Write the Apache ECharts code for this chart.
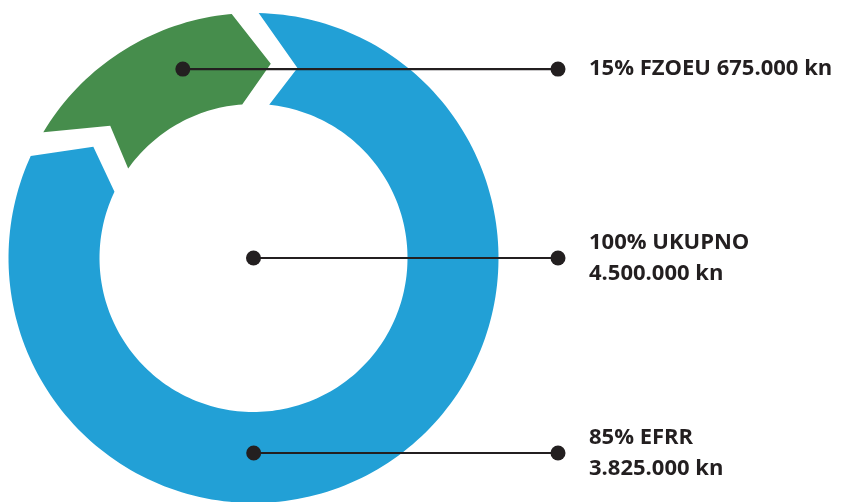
<!DOCTYPE html>
<html>
<head>
<meta charset="utf-8">
<script src="https://cdn.jsdelivr.net/npm/echarts@6/dist/echarts.min.js"></script>
<style>
  html, body { margin: 0; padding: 0; background: #fff; }
  #chart { width: 848px; height: 502px; }
</style>
</head>
<body>
<div id="chart"></div>
<script>
// data
const names = ['FZOEU', 'EFRR']
const shares = [15, 85]
const amounts = [675000, 3825000]
const totalName = 'UKUPNO'
const totalAmount = 4500000

// styles / layout
const colors = ['#468d4c', '#22a0d6']
const cutGap = [false, true] // gaps are cut out of the blue part
const R_OUT = 245
const R_MID = 195
const R_IN = 154
const GAP = 27 // px
const TIP = 2.83 // arrow tip, in angle-axis units
const IN_OFF = 0.25
// where the leader lines start: [radius, angle value]
const anchors = [[201.7, 10.72], [195, 66.4]]
const lineEndX = 558
const textX = 589
const ink = '#231f20'

const fmt = (n) => String(n).replace(/\B(?=(\d{3})+(?!\d))/g, '.')

const myChart = echarts.init(document.getElementById('chart'), null, { renderer: 'canvas' })

const ends = []
let acc = 0
shares.forEach((s) => { acc += s; ends.push(acc) })
const starts = ends.map((e, i) => e - shares[i])
const valueMax = acc

// px along arc at radius -> angle-axis units
const sh = (px, r) => (px / r) * 180 / Math.PI / (360 / valueMax)

function edge(v, shiftPx) {
  return [
    [R_OUT, v + sh(shiftPx, R_OUT)],
    [R_MID, v + TIP + sh(shiftPx, R_MID)],
    [R_IN, v + IN_OFF + sh(shiftPx, R_IN)],
  ]
}
const leadV = ends.map((e, i) => e - (cutGap[i] ? sh(GAP, R_OUT) : 0))

function renderSegment(params, api) {
  const i = api.value(2)
  const n = shares.length
  const j = (i - 1 + n) % n
  let prevLead = leadV[j]
  if (j > i) prevLead -= valueMax
  const lead = edge(leadV[i], 0)
  const trail = edge(prevLead, GAP)
  const pts = []
  const step = 0.4
  // outer arc
  for (let v = trail[0][1]; v < lead[0][1]; v += step) pts.push(api.coord([R_OUT, v]))
  pts.push(api.coord(lead[0]))
  pts.push(api.coord(lead[1]))
  pts.push(api.coord(lead[2]))
  // inner arc back
  for (let v = lead[2][1]; v > trail[2][1]; v -= step) pts.push(api.coord([R_IN, v]))
  pts.push(api.coord(trail[2]))
  pts.push(api.coord(trail[1]))
  return {
    type: 'polygon',
    shape: { points: pts },
    style: { fill: colors[i] },
  }
}

const labelTexts = [
  shares[0] + '% ' + names[0] + ' ' + fmt(amounts[0]) + ' kn',
  shares[1] + '% ' + names[1] + '\n' + fmt(amounts[1]) + ' kn',
  valueMax + '% ' + totalName + '\n' + fmt(totalAmount) + ' kn',
]
const labelData = [
  [anchors[0][0], anchors[0][1], 0],
  [anchors[1][0], anchors[1][1], 1],
  [0, 0, 2],
]

function renderLabel(params, api) {
  const i = api.value(2)
  const p = api.coord([api.value(0), api.value(1)])
  return {
    type: 'group',
    children: [
      { type: 'line', shape: { x1: p[0], y1: p[1], x2: lineEndX, y2: p[1] }, style: { stroke: ink, lineWidth: 2.2 } },
      { type: 'circle', shape: { cx: p[0], cy: p[1], r: 7.5 }, style: { fill: ink } },
      { type: 'circle', shape: { cx: lineEndX, cy: p[1], r: 7.5 }, style: { fill: ink } },
      {
        type: 'text',
        x: textX,
        y: p[1],
        style: {
          text: labelTexts[i],
          fill: ink,
          font: 'bold 22px "Open Sans"',
          lineHeight: 31,
          verticalAlign: 'middle',
          align: 'left',
        },
      },
    ],
  }
}

myChart.setOption({
  animation: false,
  polar: { center: [253.5, 258], radius: R_OUT },
  angleAxis: { type: 'value', min: 0, max: valueMax, startAngle: 149.1, clockwise: true, show: false },
  radiusAxis: { type: 'value', min: 0, max: R_OUT, show: false },
  series: [
    {
      type: 'custom',
      coordinateSystem: 'polar',
      silent: true,
      renderItem: renderSegment,
      data: shares.map((s, i) => [starts[i], ends[i], i]),
      encode: { radius: 0, angle: 1 },
    },
    {
      type: 'custom',
      coordinateSystem: 'polar',
      silent: true,
      renderItem: renderLabel,
      data: labelData,
      encode: { radius: 0, angle: 1 },
      z: 3,
    },
  ],
})
</script>
</body>
</html>
